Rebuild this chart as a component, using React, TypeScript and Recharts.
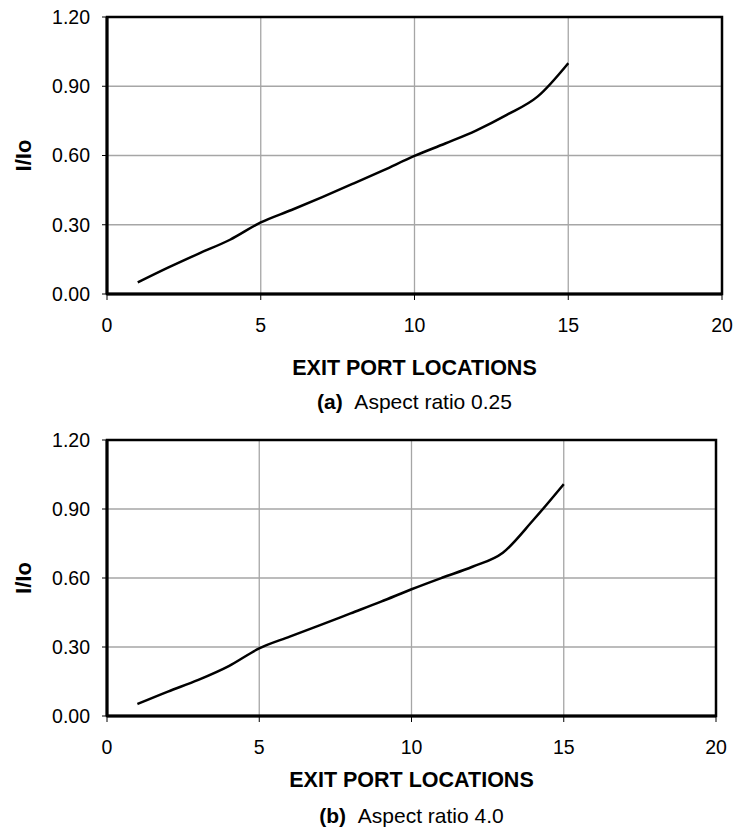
import React from 'react';
import {
  LineChart,
  Line,
  XAxis,
  YAxis,
  CartesianGrid,
  ReferenceArea,
} from 'recharts';

// exit port locations (x) and I/Io for each aspect ratio
const portLocations = [1, 2, 3, 4, 5, 6, 7, 8, 9, 10, 11, 12, 13, 14, 15];
const ratioLow = [0.05, 0.115, 0.176, 0.235, 0.31, 0.364, 0.42, 0.478, 0.537, 0.598, 0.652, 0.708, 0.776, 0.855, 1.0];
const ratioHigh = [0.052, 0.106, 0.157, 0.217, 0.294, 0.345, 0.395, 0.446, 0.497, 0.551, 0.601, 0.649, 0.71, 0.852, 1.008];

const xTicks = [0, 5, 10, 15, 20];
const yTicks = [0, 0.3, 0.6, 0.9, 1.2];

const FONT = '"Liberation Sans", Arial, Helvetica, sans-serif';

const toRows = (values: number[]) =>
  portLocations.map((x, i) => ({ x, value: values[i] }));

const XTitle = ({ viewBox, titleOffset, captionOffset, tag, caption }: any) => {
  const cx = viewBox.x + viewBox.width / 2;
  return (
    <g fontFamily={FONT} fill="#000">
      <text x={cx} y={viewBox.y + titleOffset} textAnchor="middle" fontSize={21.5} fontWeight="bold">
        EXIT PORT LOCATIONS
      </text>
      <text x={cx} y={viewBox.y + captionOffset} textAnchor="middle" fontSize={21}>
        <tspan fontWeight="bold">{tag}</tspan>
        <tspan>{'\u00a0\u00a0' + caption}</tspan>
      </text>
    </g>
  );
};

const YTitle = ({ viewBox }: any) => {
  const x = viewBox.x + 23;
  const y = viewBox.y + viewBox.height / 2;
  return (
    <text
      x={x}
      y={y}
      transform={`rotate(-90, ${x}, ${y})`}
      textAnchor="middle"
      dominantBaseline="central"
      fontFamily={FONT}
      fontSize={22}
      fontWeight="bold"
      fill="#000"
    >
      I/Io
    </text>
  );
};

interface PanelProps {
  values: number[];
  height: number;
  margin: { top: number; right: number; bottom: number; left: number };
  titleOffset: number;
  captionOffset: number;
  tag: string;
  caption: string;
}

const Panel: React.FC<PanelProps> = ({ values, height, margin, titleOffset, captionOffset, tag, caption }) => {
  const data = toRows(values);
  const tickStyle = { fill: '#000', fontSize: 19.5, fontFamily: FONT };
  return (
    <LineChart width={738} height={height} data={data} margin={margin}>
      <CartesianGrid stroke="#a6a6a6" strokeWidth={1.3} />
      <XAxis
        dataKey="x"
        type="number"
        domain={[0, 20]}
        ticks={xTicks}
        interval={0}
        height={110}
        tick={tickStyle}
        tickSize={6}
        tickMargin={18}
        axisLine={{ stroke: '#000', strokeWidth: 3 }}
        tickLine={{ stroke: '#000' }}
        label={(props: any) => (
          <XTitle {...props} titleOffset={titleOffset} captionOffset={captionOffset} tag={tag} caption={caption} />
        )}
      />
      <YAxis
        type="number"
        domain={[0, 1.2]}
        ticks={yTicks}
        interval={0}
        width={107}
        tick={tickStyle}
        tickSize={5}
        tickMargin={12}
        tickFormatter={(v: number) => v.toFixed(2)}
        axisLine={{ stroke: '#000', strokeWidth: 3 }}
        tickLine={{ stroke: '#000' }}
        label={(props: any) => <YTitle {...props} />}
      />
      <ReferenceArea x1={0} x2={20} y1={0} y2={1.2} fill="none" stroke="#000" strokeWidth={2.5} />
      <Line
        type="monotone"
        dataKey="value"
        stroke="#000"
        strokeWidth={2.5}
        dot={false}
        isAnimationActive={false}
      />
    </LineChart>
  );
};

export default function App() {
  return (
    <div style={{ position: 'absolute', left: 0, top: 0, width: 738, height: 837, background: '#fff' }}>
      <Panel
        values={ratioLow}
        height={420}
        margin={{ top: 17, right: 16, bottom: 16, left: 0 }}
        titleOffset={81}
        captionOffset={115}
        tag="(a)"
        caption="Aspect ratio 0.25"
      />
      <Panel
        values={ratioHigh}
        height={417}
        margin={{ top: 20, right: 22, bottom: 11, left: 0 }}
        titleOffset={71}
        captionOffset={107}
        tag="(b)"
        caption="Aspect ratio 4.0"
      />
    </div>
  );
}
